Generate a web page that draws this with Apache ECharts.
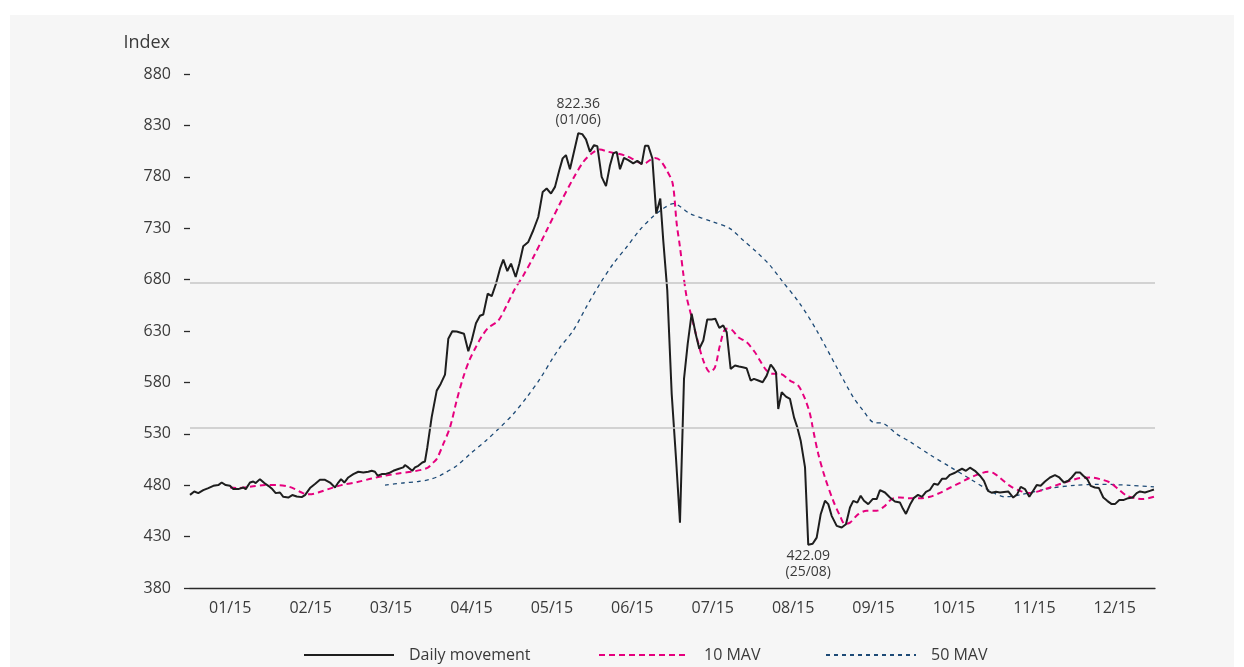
<!DOCTYPE html>
<html lang="en">
<head>
    <meta charset="UTF-8">
    <script type="text/javascript" src="https://cdn.jsdelivr.net/npm/echarts@6/dist/echarts.min.js"></script>
    <style>
        body { margin: 0; background: #ffffff; }
        #bg { position: absolute; left: 10px; top: 15px; width: 1224px; height: 652px; background: #f6f6f6; }
        #main { position: absolute; left: 0; top: 0; width: 1244px; height: 667px; }
    </style>
</head>
<body>
    <div id="bg"></div>
    <div id="main"></div>
    <script type="text/javascript">
        // month labels on the x axis
        var months = ['01/15', '02/15', '03/15', '04/15', '05/15', '06/15', '07/15', '08/15', '09/15', '10/15', '11/15', '12/15'];
        // x = position in months since 1 Jan (0..12), y = index value
        var daily = [
            [0.000,470.6],[0.053,473.9],[0.103,472.3],[0.165,475.2],[0.228,477.2],[0.290,479.4],[0.352,480.1],[0.394,482.6],
            [0.444,480.1],[0.497,479.4],[0.538,476.2],[0.601,476.2],[0.663,477.8],[0.693,476.2],[0.746,482.6],[0.787,483.6],
            [0.817,482.1],[0.870,485.9],[0.924,482.1],[0.974,479.4],[1.023,476.2],[1.066,472.3],[1.119,472.9],[1.160,468.7],
            [1.222,468.0],[1.272,470.4],[1.327,469.0],[1.389,468.4],[1.430,470.4],[1.492,477.2],[1.554,481.1],[1.616,485.3],
            [1.679,485.3],[1.741,482.6],[1.803,477.8],[1.844,482.6],[1.878,485.9],[1.919,482.6],[1.968,487.5],[2.031,490.8],
            [2.093,493.1],[2.155,492.4],[2.217,493.1],[2.259,494.0],[2.300,493.1],[2.334,489.2],[2.384,490.8],[2.425,490.8],
            [2.474,491.8],[2.528,494.0],[2.590,495.7],[2.652,497.3],[2.673,499.6],[2.714,497.3],[2.764,494.0],[2.798,497.3],
            [2.839,498.9],[2.889,502.1],[2.922,503.1],[2.951,516.7],[3.005,546.0],[3.068,572.0],[3.117,578.5],[3.171,587.6],
            [3.212,622.4],[3.262,629.8],[3.316,629.5],[3.407,627.3],[3.461,610.3],[3.503,620.8],[3.556,637.6],[3.606,644.8],
            [3.647,646.1],[3.702,666.3],[3.752,663.9],[3.805,676.0],[3.855,690.6],[3.896,699.4],[3.946,688.3],[3.992,695.5],
            [4.050,682.5],[4.095,695.5],[4.144,712.4],[4.207,716.6],[4.269,728.0],[4.331,740.9],[4.386,765.3],[4.435,768.6],
            [4.489,763.7],[4.539,770.2],[4.592,786.4],[4.634,797.9],[4.675,801.1],[4.725,787.4],[4.775,804.3],[4.828,822.36],
            [4.878,821.5],[4.924,816.4],[4.974,804.3],[5.024,810.8],[5.065,809.8],[5.119,779.9],[5.173,770.9],[5.223,791.3],
            [5.264,802.7],[5.306,804.3],[5.347,787.4],[5.397,798.4],[5.450,796.2],[5.512,793.0],[5.562,795.5],[5.617,792.3],
            [5.658,810.1],[5.699,810.1],[5.749,798.1],[5.798,744.2],[5.848,758.9],[5.885,718.2],[5.935,669.5],[5.990,568.8],
            [6.043,507.0],[6.093,443.6],[6.143,583.4],[6.189,617.5],[6.238,646.8],[6.288,627.3],[6.333,612.7],[6.383,620.8],
            [6.432,641.2],[6.487,641.2],[6.532,641.9],[6.582,633.1],[6.631,635.4],[6.674,628.8],[6.723,593.2],[6.777,596.4],
            [6.827,595.4],[6.873,594.7],[6.922,593.8],[6.972,581.8],[7.013,583.4],[7.067,581.8],[7.121,580.1],[7.171,586.6],
            [7.221,597.4],[7.253,594.1],[7.287,589.9],[7.315,554.2],[7.358,570.4],[7.411,566.2],[7.461,563.9],[7.511,546.0],
            [7.552,536.2],[7.594,523.3],[7.648,497.3],[7.688,422.09],[7.743,423.0],[7.793,429.0],[7.843,451.8],[7.896,464.8],
            [7.937,461.6],[7.979,450.2],[8.042,440.4],[8.104,438.8],[8.157,442.1],[8.207,458.3],[8.248,464.8],[8.298,463.1],
            [8.340,469.7],[8.381,464.8],[8.434,461.6],[8.489,466.5],[8.539,466.5],[8.580,475.2],[8.642,472.9],[8.704,468.0],
            [8.766,464.1],[8.829,463.1],[8.866,457.0],[8.903,452.1],[8.953,460.9],[9.003,467.7],[9.053,470.6],[9.102,468.7],
            [9.152,473.6],[9.202,475.5],[9.251,481.4],[9.301,480.4],[9.351,486.2],[9.401,486.2],[9.450,490.1],[9.513,492.1],
            [9.550,494.0],[9.600,496.0],[9.649,494.0],[9.699,497.0],[9.761,494.0],[9.823,489.2],[9.873,484.3],[9.923,474.5],
            [9.973,472.6],[10.022,473.6],[10.072,472.9],[10.175,473.9],[10.237,468.0],[10.287,471.3],[10.330,478.4],[10.383,476.2],
            [10.437,468.7],[10.479,473.9],[10.529,480.1],[10.578,479.4],[10.632,483.6],[10.694,487.5],[10.756,489.8],[10.810,487.5],
            [10.868,482.6],[10.922,484.3],[10.964,487.5],[11.017,492.4],[11.067,492.4],[11.108,489.2],[11.158,485.9],[11.200,479.4],
            [11.253,477.8],[11.303,477.2],[11.357,468.0],[11.406,464.8],[11.461,461.6],[11.502,461.6],[11.556,465.5],[11.605,465.5],
            [11.667,467.4],[11.722,468.0],[11.772,472.3],[11.813,473.9],[11.875,472.9],[11.937,474.5],[11.987,475.8]
        ];
        var mav10 = [
            [0.497,477.8],[0.601,477.2],[0.767,478.7],[0.933,480.1],[1.098,480.1],[1.222,478.7],[1.306,476.2],[1.389,472.9],
            [1.451,471.3],[1.513,471.3],[1.595,472.9],[1.720,476.2],[1.886,480.1],[2.093,483.3],[2.259,486.5],[2.425,489.2],
            [2.590,491.4],[2.757,493.1],[2.881,495.0],[2.963,497.3],[3.025,502.1],[3.068,505.4],[3.150,520.1],[3.233,536.2],
            [3.316,562.3],[3.398,585.0],[3.473,601.3],[3.544,612.7],[3.627,624.6],[3.709,633.1],[3.834,640.2],[3.938,654.9],
            [4.041,671.1],[4.145,684.1],[4.269,701.7],[4.436,728.0],[4.601,754.0],[4.766,778.4],[4.891,794.5],[4.995,802.7],
            [5.098,806.6],[5.201,804.3],[5.306,802.7],[5.430,800.1],[5.533,796.2],[5.637,792.3],[5.720,796.2],[5.782,798.4],
            [5.844,796.2],[5.928,786.4],[6.002,773.5],[6.052,734.5],[6.093,711.7],[6.134,685.8],[6.176,663.0],[6.238,643.5],
            [6.301,624.0],[6.383,601.3],[6.466,589.9],[6.528,594.7],[6.590,615.9],[6.665,632.2],[6.736,631.2],[6.818,624.0],
            [6.922,619.1],[7.025,609.3],[7.088,601.3],[7.171,591.5],[7.253,588.3],[7.336,588.3],[7.461,581.8],[7.564,576.9],
            [7.648,563.9],[7.710,549.3],[7.751,533.0],[7.813,510.3],[7.896,487.5],[7.999,464.8],[8.083,450.2],[8.145,442.1],
            [8.207,443.6],[8.311,451.8],[8.414,455.1],[8.539,455.1],[8.642,459.9],[8.725,466.5],[8.829,468.0],[8.953,467.2],
            [9.077,467.2],[9.202,468.7],[9.326,472.6],[9.450,477.5],[9.575,482.3],[9.699,487.2],[9.823,491.1],[9.923,493.1],
            [9.998,491.6],[10.072,487.2],[10.196,479.4],[10.321,474.5],[10.445,472.3],[10.570,474.5],[10.694,477.8],[10.818,481.1],
            [10.943,484.3],[11.067,486.9],[11.191,487.5],[11.316,485.9],[11.440,482.6],[11.543,476.2],[11.648,469.7],[11.751,467.4],
            [11.854,466.5],[11.987,468.7]
        ];
        var mav50 = [
            [2.425,480.1],[2.632,482.1],[2.839,483.6],[2.984,485.6],[3.088,488.5],[3.150,491.1],[3.316,498.9],[3.482,510.3],
            [3.689,524.0],[3.855,536.2],[4.020,549.3],[4.187,565.5],[4.352,583.4],[4.518,604.5],[4.601,614.2],[4.766,630.5],
            [4.933,654.0],[5.098,676.0],[5.264,695.5],[5.430,711.7],[5.596,728.5],[5.761,741.6],[5.885,749.1],[6.010,754.0],
            [6.217,744.2],[6.507,736.1],[6.715,729.6],[6.880,718.2],[7.047,706.8],[7.212,693.9],[7.358,679.2],[7.585,656.5],
            [7.793,630.5],[8.042,594.7],[8.248,565.5],[8.372,552.5],[8.497,541.1],[8.621,540.1],[8.788,529.8],[8.953,522.3],
            [9.202,509.6],[9.450,497.9],[9.699,486.2],[9.948,474.5],[10.134,468.7],[10.321,470.6],[10.694,477.0],[11.005,479.9],
            [11.316,480.9],[11.689,479.9],[11.987,478.4]
        ];
        // reference lines and annotation dates
        var refLines = [677, 535.5];
        var peakDate = '01/06';
        var troughDate = '25/08';

        var font = "'Open Sans', 'Noto Sans', sans-serif";
        var txt = '#3a3a3a';

        var myChart = echarts.init(document.getElementById('main'));
        var legendBase = {
            top: 642, itemWidth: 90, itemHeight: 14, padding: 5,
            itemStyle: { opacity: 0 },
            textStyle: { fontFamily: font, fontSize: 16, color: txt, padding: [0, 0, 0, 10] }
        };
        var option = {
            animation: false,
            grid: { left: 190, right: 89, top: 74, bottom: 79 },
            legend: [
                Object.assign({ left: 298, data: ['Daily movement'] }, legendBase),
                Object.assign({ left: 593, data: ['10 MAV'] }, legendBase),
                Object.assign({ left: 820, data: ['50 MAV'] }, legendBase)
            ],
            xAxis: [
                {
                    type: 'category',
                    data: months,
                    boundaryGap: true,
                    axisLine: { lineStyle: { color: '#2a2a2a', width: 1.3 } },
                    axisTick: { length: 8, lineStyle: { color: '#2a2a2a', width: 1.3 } },
                    axisLabel: { fontFamily: font, fontSize: 16, color: txt, margin: 12 },
                    splitLine: { show: false }
                },
                { type: 'value', min: 0, max: 12, show: false }
            ],
            yAxis: {
                type: 'value',
                min: 380,
                max: 880,
                interval: 50,
                name: 'Index',
                nameLocation: 'end',
                nameGap: 22,
                nameTextStyle: { fontFamily: font, fontSize: 18, color: txt, align: 'right', padding: [0, 20, 0, 0] },
                axisLine: { show: false },
                axisTick: { show: true, length: 6, lineStyle: { color: '#2a2a2a', width: 1.3 } },
                axisLabel: { fontFamily: font, fontSize: 16, color: txt, margin: 19 },
                splitLine: { show: false }
            },
            series: [
                {
                    name: '50 MAV',
                    type: 'line',
                    xAxisIndex: 1,
                    data: mav50,
                    symbol: 'none',
                    smooth: 0.3,
                    lineStyle: { color: '#1d4a76', width: 1.3, type: [4, 4] },
                    itemStyle: { color: '#1d4a76' },
                    markLine: {
                        silent: true,
                        symbol: 'none',
                        label: { show: false },
                        lineStyle: { color: '#c6c6c6', width: 1.5, type: 'solid' },
                        data: refLines.map(function (v) { return { yAxis: v }; })
                    }
                },
                {
                    name: '10 MAV',
                    type: 'line',
                    xAxisIndex: 1,
                    data: mav10,
                    symbol: 'none',
                    smooth: 0.3,
                    lineStyle: { color: '#e6007e', width: 2, type: [6, 4] },
                    itemStyle: { color: '#e6007e' }
                },
                {
                    name: 'Daily movement',
                    type: 'line',
                    xAxisIndex: 1,
                    data: daily,
                    symbol: 'none',
                    lineStyle: { color: '#1e1e1e', width: 2 },
                    itemStyle: { color: '#1e1e1e' },
                    markPoint: {
                        silent: true,
                        symbol: 'circle',
                        symbolSize: 2,
                        itemStyle: { color: 'rgba(0,0,0,0)' },
                        label: { fontFamily: font, fontSize: 14, color: txt, lineHeight: 16 },
                        data: [
                            { type: 'max', label: { position: 'top', distance: 4, formatter: function (p) { return p.value.toFixed(2) + '\n(' + peakDate + ')'; } } },
                            { type: 'min', label: { position: 'bottom', distance: 2, formatter: function (p) { return p.value.toFixed(2) + '\n(' + troughDate + ')'; } } }
                        ]
                    }
                }
            ]
        };
        myChart.setOption(option);
    </script>
</body>
</html>
